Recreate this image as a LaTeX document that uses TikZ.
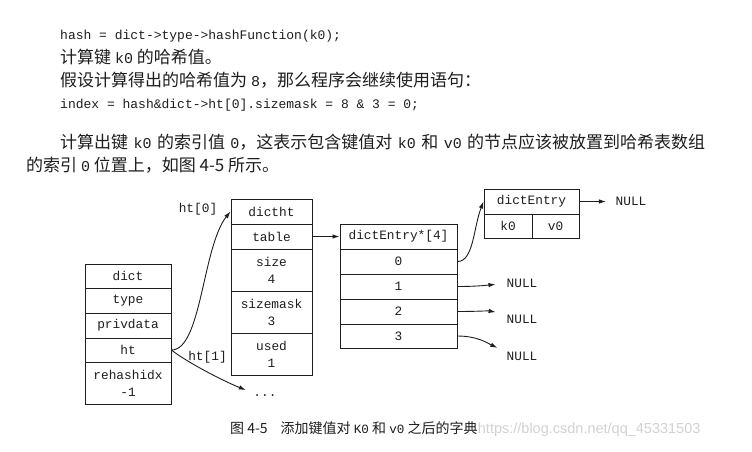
\documentclass[tikz,border=0pt]{standalone}
\usepackage{fontspec}
\newfontfamily\cjk{Noto Sans CJK SC}
\newfontfamily\mono{Liberation Mono}
\newfontfamily\wmfont{Liberation Sans}
\usetikzlibrary{arrows.meta}
\definecolor{ink}{HTML}{1E1E1E}
\definecolor{wmgray}{HTML}{D2D2D2}
\tikzset{
  cell/.style={draw=ink, line width=1pt, inner sep=0pt, align=center,
    font=\fontsize{12.8}{17}\selectfont\mono, text=ink},
  lbl/.style={inner sep=0pt, font=\fontsize{12.8}{17}\selectfont\mono, text=ink},
  arr/.style={draw=ink, line width=0.9pt, -{Latex[length=7pt,width=4.5pt]}},
  body/.style={inner sep=0pt, anchor=base west, text=ink, font=\fontsize{17}{20}\selectfont\cjk},
  code/.style={inner sep=0pt, anchor=base west, text=ink, font=\fontsize{13}{16}\selectfont\mono},
}
\newcommand{\bm}[1]{{\fontsize{15}{18}\selectfont\mono #1}}
\newcommand{\cm}[1]{{\fontsize{12.6}{16}\selectfont\mono #1}}
\begin{document}
\begin{tikzpicture}[x=1pt,y=-1pt]
\useasboundingbox[fill=white] (0,0) rectangle (752,451);

% ---- text above ----
\node[code] (l1) at (60,39) {hash = dict->type->hashFunction(k0);};
\node[body] (l2) at (60,63) {计算键 \bm{k0} 的哈希值。};
\node[body] (l3) at (60,86) {假设计算得出的哈希值为 \bm{8}，那么程序会继续使用语句：};
\node[code] (l4) at (60,108) {index = hash\&dict->ht[0].sizemask = 8 \& 3 = 0;};
\node[body] (l5) at (60,148) {\makebox[645pt][s]{计算出键 \bm{k0} 的索引值 \bm{0}，这表示包含键值对 \bm{k0} 和 \bm{v0} 的节点应该被放置到哈希表数组}};
\node[body] (l6) at (26,171) {的索引 \bm{0} 位置上，如图 4-5 所示。};

% ---- dict ----
\node[cell, minimum width=86pt, minimum height=24pt] (d-dict) at (128,276) {dict};
\node[cell, minimum width=86pt, minimum height=25pt] (d-type) at (128,300.5) {type};
\node[cell, minimum width=86pt, minimum height=25pt] (d-priv) at (128,325.5) {privdata};
\node[cell, minimum width=86pt, minimum height=24pt] (d-ht) at (128,350) {ht};
\node[cell, minimum width=86pt, minimum height=42pt] (d-rehash) at (128,383) {rehashidx\\-1};

% ---- dictht ----
\node[cell, minimum width=81pt, minimum height=25pt] (h-title) at (271.5,211.5) {dictht};
\node[cell, minimum width=81pt, minimum height=25pt] (h-table) at (271.5,236.5) {table};
\node[cell, minimum width=81pt, minimum height=42pt] (h-size) at (271.5,270) {size\\4};
\node[cell, minimum width=81pt, minimum height=42pt] (h-mask) at (271.5,312) {sizemask\\3};
\node[cell, minimum width=81pt, minimum height=42pt] (h-used) at (271.5,354) {used\\1};

% ---- table ----
\node[cell, minimum width=117pt, minimum height=25pt] (t-title) at (398.5,236.5) {dictEntry*[4]};
\node[cell, minimum width=117pt, minimum height=25pt] (t-0) at (398.5,261.5) {0};
\node[cell, minimum width=117pt, minimum height=25pt] (t-1) at (398.5,286.5) {1};
\node[cell, minimum width=117pt, minimum height=25pt] (t-2) at (398.5,311.5) {2};
\node[cell, minimum width=117pt, minimum height=24pt] (t-3) at (398.5,336) {3};

% ---- dictEntry ----
\node[cell, minimum width=95pt, minimum height=25pt] (e-title) at (531.5,201.5) {dictEntry};
\node[cell, minimum width=48pt, minimum height=24pt] (e-k) at (508,226) {k0};
\node[cell, minimum width=47pt, minimum height=24pt] (e-v) at (555.5,226) {v0};

% ---- labels ----
\node[lbl] (ht0) at (198,209) {ht[0]};
\node[lbl] (ht1) at (207.5,357) {ht[1]};
\node[lbl] (dots) at (265,396) {...};
\node[lbl] (n0) at (631,201.5) {NULL};
\node[lbl] (n1) at (522,283.5) {NULL};
\node[lbl] (n2) at (522,319) {NULL};
\node[lbl] (n3) at (522,356) {NULL};

% ---- connectors ----
\draw[arr] (d-ht.east) .. controls +(30,0) and +(-28,35) .. (h-title.west);
\draw[arr, shorten >=8pt] (d-ht.east) .. controls +(15,12) and +(-30,-12) .. ([yshift=3pt]dots.west);
\draw[arr] (h-table.east) -- (t-title.west);
\draw[arr] (t-0.east) .. controls +(16,0) and +(-10,26) .. (e-title.west);
\draw[arr, shorten >=9.5pt] (e-title.east) -- (n0.west);
\draw[arr, shorten >=11pt] (t-1.east) to[out=0,in=185] (n1.west);
\draw[arr, shorten >=11pt] (t-2.east) to[out=0,in=170] ([yshift=5pt]n2.west);
\draw[arr, shorten >=10pt] (t-3.east) to[out=0,in=155] ([yshift=4pt]n3.west);

% ---- caption ----
\node[inner sep=0pt, anchor=base west, text=ink, font=\fontsize{14}{16}\selectfont\cjk] (cap) at (230,433)
  {图 4-5\hspace{13pt}添加键值对 \cm{K0} 和 \cm{v0} 之后的字典};
\node[inner sep=0pt, anchor=base west, text=wmgray, font=\fontsize{14.5}{16}\selectfont\wmfont] (wm) at (cap.base east)
  {https://blog.csdn.net/qq\_45331503};
\end{tikzpicture}
\end{document}
